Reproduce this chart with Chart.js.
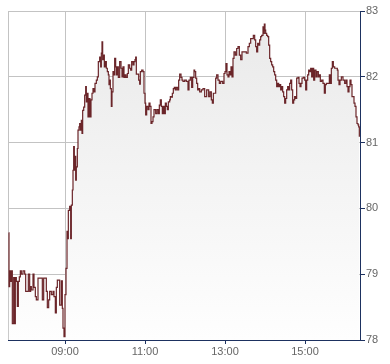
<!DOCTYPE html>
<html>
<head>
<meta charset="utf-8">
<script src="https://cdn.jsdelivr.net/npm/chart.js@4/dist/chart.umd.min.js"></script>
<style>
  html, body { margin:0; padding:0; background:#fff; }
  #wrap { width:390px; height:364px; }
</style>
</head>
<body>
<div id="wrap"><canvas id="chartPrice" width="390" height="364"></canvas></div>
<script>
// DATA (minutes after midnight, price)
const minutes = [
  455.5,456,457,458.5,460,461,463,464.5,465.5,467,468.5,470,471.5,473,474.5,477,479.5,481,485,487,
  488.5,489.5,492,493.5,495.5,497,499.5,506,508,512,513.5,515.5,517,519.5,522,523.5,525.5,527,528.5,532,
  534.5,536,537,538.5,540,541.5,543,544,545,547,548.5,549.5,551,552,553,554,555,556,557,558.5,
  559.5,561,562,563,564.5,565.5,566.5,568,569.5,571,572,573,574.5,576,577.5,579,580.5,582,583.5,585,
  587,588.5,590,592,593.5,594.5,595.5,596.5,597.5,599,600.5,602,603.5,605,606,607,608,609.5,610.5,612,
  613.5,614.5,616,617,618.5,620,622,624,625.5,627,628.5,630,631.5,633.5,635,637,638.5,640,642,643.5,
  645,646,647,650.5,652,653,655,657,658.5,660,661,662.5,664.5,666,667.5,669,670.5,672,673.5,676,
  678,680,681.5,683,684.5,686,687.5,689,690.5,692,693.5,695,697,698,699.5,701,702.5,704,705.5,707,
  709,710.5,712,714,715.5,717,719.5,722,724.5,726,728,730,731.5,733.5,
  734.5,736,737.5,739,740.5,742,744.5,747,749.5,752.5,755.5,757.5,759.5,761,762.5,766,767.5,769.5,771.5,773.5,
  776.5,778.5,780,781.5,783,784.5,786,787.5,789,790.5,792,793.5,795.5,797.5,799.5,801.5,803.5,805.5,812,814.5,
  816.5,818.5,822.5,824.5,826,827.5,829,830.5,832,833.5,835,837,838,839,840,841,842.5,844,845.5,847,
  848.5,850,851.5,853,854.5,856,857.5,859,860.5,862,863.5,865,866.5,868,869.5,871,872.5,874,875.5,877,
  878.5,880,881.5,883,884.5,886,887.5,889.5,891,892.5,894,895.5,897.5,899.5,901,902.5,904,905.5,907,908.5,
  910,911.5,913,914.5,916.5,918,920,921.5,923,925,927,929,930.5,932,936.5,938,939.5,941,942.5,944.5,
  948.5,949.5,951,952.5,954.5,957,959.5,961.5,963,964.5,966,967.5,969,970.5,973.5,975,976.5,978,979.5,980.5,
  981.5
];
const prices = [
  79.63,78.81,79.05,78.89,79.05,78.25,78.95,78.25,78.95,78.89,78.51,78.89,78.96,79.05,79.0,79.05,79.0,78.74,79.0,78.74,
  78.81,78.76,79.0,78.8,78.66,78.61,78.94,78.61,78.94,78.74,78.49,78.61,78.74,78.69,78.74,78.66,78.41,78.8,78.91,78.53,
  78.9,78.48,78.18,78.05,78.69,79.09,79.65,79.54,79.97,80.03,79.54,80.05,80.28,80.58,80.94,80.58,80.79,80.43,80.63,80.91,
  81.19,81.24,81.29,81.19,81.34,81.14,81.49,81.54,81.72,81.85,81.62,81.75,81.39,81.67,81.39,81.65,81.75,81.82,81.77,81.9,
  81.95,82.0,82.23,82.3,82.15,82.36,82.53,82.26,82.33,82.15,82.23,82.13,82.08,82.03,81.88,81.95,81.82,81.55,81.77,82.08,
  82.03,82.28,82.15,82.03,82.15,81.99,82.23,82.13,82.0,82.15,81.99,82.03,81.99,82.05,82.18,82.13,82.1,82.23,82.18,82.23,
  82.26,82.3,82.04,81.95,81.89,82.08,82.1,82.08,81.75,81.6,81.42,81.55,81.5,81.6,81.55,81.29,81.32,81.39,81.5,81.44,
  81.5,81.44,81.57,81.65,81.55,81.44,81.55,81.44,81.6,81.55,81.5,81.62,81.65,81.7,81.69,81.75,81.82,81.84,81.8,81.84,
  81.8,81.95,82.04,81.99,81.95,81.93,81.95,81.93,81.8,81.95,81.99,81.84,81.99,82.1,
  82.08,81.98,81.9,81.8,81.82,81.77,81.8,81.82,81.7,81.8,81.7,81.77,81.65,81.6,81.75,81.98,82.03,81.95,81.9,81.93,
  81.9,82.05,82.08,82.2,82.03,82.0,82.08,82.03,82.15,82.0,82.28,82.38,82.33,82.43,82.46,82.33,82.26,82.38,82.36,82.46,
  82.51,82.58,82.63,82.56,82.46,82.38,82.51,82.48,82.56,82.61,82.63,82.76,82.66,82.8,82.71,82.66,82.63,82.61,82.48,82.28,
  82.23,82.18,82.15,82.08,82.03,81.95,81.85,81.9,81.85,81.88,81.8,81.85,81.77,81.7,81.6,81.67,81.8,81.85,81.8,81.9,
  81.95,81.8,81.6,81.65,81.7,81.67,81.98,81.99,81.9,81.85,81.9,81.98,81.99,81.95,81.8,81.95,82.03,82.1,82.08,82.13,
  82.0,82.13,81.95,82.1,82.0,82.08,82.0,82.03,81.93,81.95,81.9,81.75,81.88,81.9,82.03,81.9,82.13,82.23,82.15,82.13,
  82.1,81.95,81.88,81.95,82.0,81.95,81.9,81.95,81.85,81.77,81.85,81.95,81.88,81.7,81.6,81.55,81.39,81.29,81.27,81.24,
  81.09
];
const xTickLabels = ['09:00', '11:00', '13:00', '15:00'];
const yTicks = [78, 79, 80, 81, 82, 83];
const xRange = ['07:34:30', '16:22:30'];

const toMin = s => { const p = s.split(':').map(Number); return p[0]*60 + p[1] + (p[2] || 0)/60; };
const fmt = m => String(Math.floor(m/60)).padStart(2,'0') + ':' + String(Math.round(m%60)).padStart(2,'0');

// COLOURS
const C = {
  line: '#6b2529',
  axis: '#1d3160',
  grid: '#c3c3c3',
  text: '#666666'
};

// left + top border of the plot
const frame = {
  id: 'frame',
  beforeDatasetsDraw(chart) {
    const { ctx, chartArea: a } = chart;
    ctx.save();
    ctx.strokeStyle = C.grid;
    ctx.lineWidth = 1;
    ctx.beginPath();
    ctx.moveTo(a.left + 0.5, a.bottom);
    ctx.lineTo(a.left + 0.5, a.top);
    ctx.stroke();
    ctx.restore();
  }
};

const pts = minutes.map((m, i) => ({ x: m, y: prices[i] }));

new Chart(document.getElementById('chartPrice'), {
  type: 'line',
  data: {
    datasets: [{
      data: pts,
      stepped: true,
      borderColor: C.line,
      borderWidth: 1.2,
      pointRadius: 0,
      fill: 'start',
      backgroundColor: ctx => {
        const a = ctx.chart.chartArea;
        if (!a) return '#eee';
        const g = ctx.chart.ctx.createLinearGradient(0, a.top, 0, a.bottom);
        g.addColorStop(0, '#e9e9e9');
        g.addColorStop(1, '#fefefe');
        return g;
      }
    }]
  },
  options: {
    responsive: false,
    animation: false,
    layout: { padding: { left: 8, top: 11, right: 0, bottom: 0 } },
    plugins: { legend: { display: false }, tooltip: { enabled: false } },
    scales: {
      x: {
        type: 'linear',
        min: toMin(xRange[0]),
        max: toMin(xRange[1]),
        afterBuildTicks: s => { s.ticks = xTickLabels.map(l => ({ value: toMin(l) })); },
        afterFit: s => { s.height = 24; },
        grid: { color: C.grid, tickColor: C.axis, tickLength: 4 },
        border: { color: C.axis, width: 1 },
        ticks: {
          callback: v => fmt(v),
          color: C.text,
          font: { family: 'Liberation Sans', size: 11 },
          padding: 1,
          maxRotation: 0
        }
      },
      y: {
        position: 'right',
        min: yTicks[0],
        max: yTicks[yTicks.length - 1],
        afterBuildTicks: s => { s.ticks = yTicks.map(v => ({ value: v })); },
        afterFit: s => { s.width = 30; },
        grid: { color: C.grid, tickColor: C.axis, tickLength: 5 },
        border: { color: C.axis, width: 1 },
        ticks: {
          color: C.text,
          font: { family: 'Liberation Sans', size: 11 },
          padding: 1
        }
      }
    }
  },
  plugins: [frame]
});
</script>
</body>
</html>
